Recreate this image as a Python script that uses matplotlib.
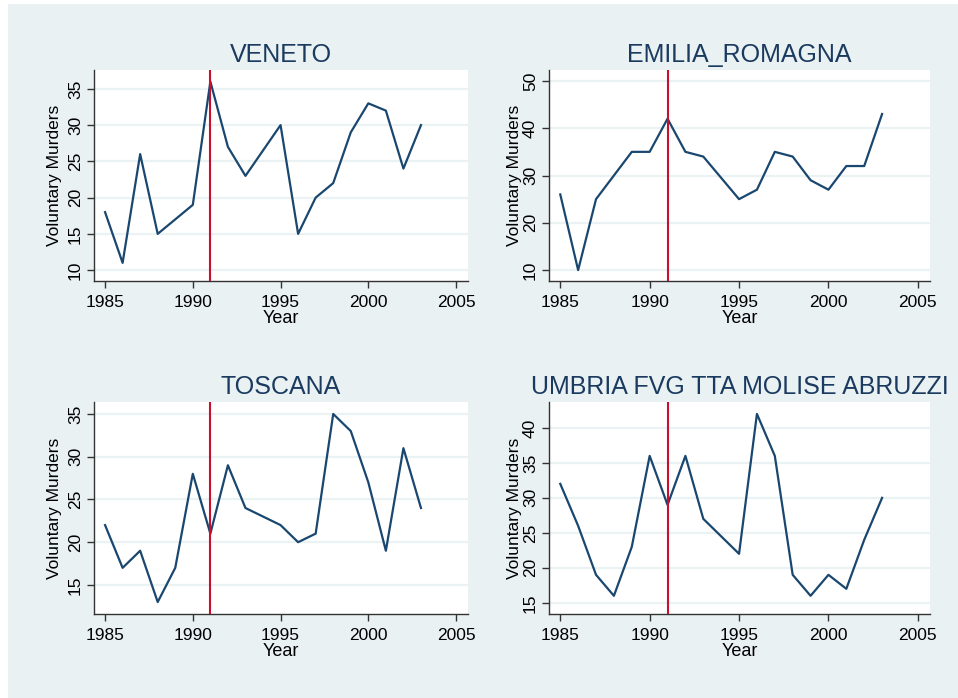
import matplotlib
matplotlib.use("Agg")
import matplotlib.pyplot as plt
from matplotlib.patches import Rectangle

plt.rcParams['font.family'] = ['Liberation Sans', 'DejaVu Sans']

# ---- data ----
years = [1985, 1986, 1987, 1988, 1989, 1990, 1991, 1992, 1993,
         1995, 1996, 1997, 1998, 1999, 2000, 2001, 2002, 2003]
veneto = [18, 11, 26, 15, 17, 19, 36, 27, 23, 30, 15, 20, 22, 29, 33, 32, 24, 30]
emilia = [26, 10, 25, 30, 35, 35, 42, 35, 34, 25, 27, 35, 34, 29, 27, 32, 32, 43]
toscana = [22, 17, 19, 13, 17, 28, 21, 29, 24, 22, 20, 21, 35, 33, 27, 19, 31, 24]
umbria = [32, 26, 19, 16, 23, 36, 29, 36, 27, 22, 42, 36, 19, 16, 19, 17, 24, 30]
titles = ["VENETO", "EMILIA_ROMAGNA", "TOSCANA", "UMBRIA FVG TTA MOLISE ABRUZZI"]
series = [veneto, emilia, toscana, umbria]
xticks = [1985, 1990, 1995, 2000, 2005]
yticks_list = [[10, 15, 20, 25, 30, 35],
               [10, 20, 30, 40, 50],
               [15, 20, 25, 30, 35],
               [15, 20, 25, 30, 35, 40]]
ylims = [(8.5, 37.6), (7.7, 52.3), (11.6, 36.4), (13.4, 43.7)]
event_year = 1991

W, H = 958, 698
fig = plt.figure(figsize=(W / 100, H / 100), dpi=100)
fig.patch.set_facecolor('white')
bg = '#EAF1F3'
fig.add_artist(Rectangle((8 / W, 0), 1 - 8 / W, 1 - 4 / H, transform=fig.transFigure,
                         facecolor=bg, edgecolor='none', zorder=0))

# pixel boxes (x0, x1, ytop, ybottom)
boxes = [(94, 468, 70, 281), (549, 930, 70, 281),
         (94, 468, 402, 614), (549, 930, 402, 614)]
ylabel_x = [-0.086, -0.071, -0.086, -0.071]

navy = '#1a476f'
red = '#c8102e'

for i in range(4):
    x0, x1, yt, yb = boxes[i]
    ax = fig.add_axes([x0 / W, 1 - yb / H, (x1 - x0) / W, (yb - yt) / H])
    ax.set_facecolor('white')
    ax.plot(years, series[i], color=navy, lw=1.6, zorder=3)
    ax.axvline(event_year, color=red, lw=1.5, zorder=4)
    ax.set_xlim(1984.37, 2005.68)
    ax.set_ylim(*ylims[i])
    ax.set_xticks(xticks)
    ax.set_yticks(yticks_list[i])
    ax.grid(axis='y', color='#EAF2F3', lw=1.6, zorder=1)
    ax.set_axisbelow(True)
    for s in ['top', 'right']:
        ax.spines[s].set_visible(False)
    for s in ['left', 'bottom']:
        ax.spines[s].set_color('#333333')
        ax.spines[s].set_linewidth(1.0)
    ax.tick_params(axis='both', direction='out', length=5, width=1.0, color='#333333',
                   labelsize=12.5, labelcolor='black', pad=3)
    ax.tick_params(axis='x', pad=5)
    plt.setp(ax.get_yticklabels(), rotation=90, va='center')
    ax.set_xlabel('Year', fontsize=13, labelpad=0)
    ax.set_ylabel('Voluntary Murders', fontsize=12.5)
    ax.yaxis.set_label_coords(ylabel_x[i], 0.5)
    ax.set_title(titles[i], fontsize=18, color='#1a3a5f', pad=6)

fig.savefig('out.png', dpi=100, facecolor=fig.get_facecolor())
